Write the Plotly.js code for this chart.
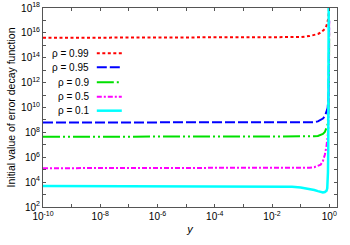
<!DOCTYPE html>
<html><head><meta charset="utf-8">
<script src="https://cdn.plot.ly/plotly-3.0.1.min.js"></script>
<style>html,body{margin:0;padding:0;background:#fff}#c{width:350px;height:245px}</style>
</head><body><div id="c"></div>
<script>
// shared x values (y variable)
const xs = [1e-10, 1e-8, 1e-6, 1e-4, 1e-3, 1e-2, 0.05, 0.1, 0.2, 0.3, 0.4, 0.5, 0.6, 0.7, 0.8, 0.85, 0.88, 0.9, 0.92, 0.94, 0.95, 0.96, 0.97, 0.98, 0.99];
// series values
const rho099 = [4.0e15, 4.0e15, 4.0e15, 4.0e15, 4.0e15, 4.1e15, 4.3e15, 4.6e15, 5.5e15, 6.6e15, 8.1e15, 1.05e16, 1.45e16, 2.1e16, 3.8e16, 5.6e16, 7.6e16, 1.0e17, 1.4e17, 2.1e17, 2.6e17, 4.0e17, 6.3e17, 1.3e18, 4e18];
const rho095 = [6.2e8, 6.2e8, 6.2e8, 6.2e8, 6.2e8, 6.2e8, 6.2e8, 6.3e8, 6.5e8, 6.6e8, 7.6e8, 1.0e9, 1.3e9, 2.0e9, 4.0e9, 7.0e9, 1.0e10, 1.6e10, 3e10, 1e11, 3e11, 1.6e12, 1e13, 3e14, 1e17];
const rho09  = [4.4e7, 4.4e7, 4.4e7, 4.4e7, 4.4e7, 4.4e7, 4.4e7, 4.5e7, 4.6e7, 4.8e7, 5.2e7, 6.0e7, 7.6e7, 1.07e8, 2.0e8, 3.5e8, 5.0e8, 7.9e8, 1.6e9, 5e9, 1.3e10, 5e10, 3e11, 1e13, 1e16];
const rho05  = [1.32e5, 1.32e5, 1.32e5, 1.32e5, 1.32e5, 1.32e5, 1.32e5, 1.35e5, 1.45e5, 1.6e5, 1.9e5, 2.5e5, 5e5, 1.6e6, 7.9e6, 2e7, 4e7, 8e7, 2e8, 1e9, 3e9, 2e10, 3e11, 3e13, 1e17];
const rho01  = [4.8e3, 4.8e3, 4.8e3, 4.8e3, 4.8e3, 4.6e3, 4.2e3, 3.7e3, 2.9e3, 2.3e3, 1.9e3, 1.6e3, 1.5e3, 1.6e3, 2.0e3, 3.2e3, 1.0e4, 6.3e4, 3e6, 1e10, 1e13, 1e18, 1e23, 1e28, 1e33];
const seriesNames = ['ρ = 0.99', 'ρ = 0.95', 'ρ = 0.9', 'ρ = 0.5', 'ρ = 0.1'];
const seriesData = [rho099, rho095, rho09, rho05, rho01];
const tickDecadesY = [2,3,4,5,6,7,8,9,10,11,12,13,14,15,16,17,18];
const tickDecadesX = [-10,-9,-8,-7,-6,-5,-4,-3,-2,-1,0];

const colors = ['#ff0000', '#0000ff', '#00e000', '#ff00ff', '#00ffff'];
const dashes = ['3px,2.5px', '10px,3px', '17px,3px,2px,3px,2px,3px', '5px,2px,2px,2px', 'solid'];
const widths = [2, 2, 2, 2, 2.5];

const traces = seriesData.map((ys, i) => ({
  x: xs, y: ys, type: 'scatter', mode: 'lines', name: seriesNames[i],
  line: {color: colors[i], dash: dashes[i], width: widths[i]}, showlegend: false
}));

const yTickVals = tickDecadesY.map(d => Math.pow(10, d));
const yTickText = tickDecadesY.map(d => d % 2 === 0 ? '10<sup>' + d + '</sup>' : '');
const xTickVals = tickDecadesX.map(d => Math.pow(10, d));
const xTickText = tickDecadesX.map(d => d % 2 === 0 ? '10<sup>' + d + '</sup>' : '');

// manual legend (text left, sample line right)
const legY = [0.772, 0.702, 0.627, 0.554, 0.484];
const annotations = seriesNames.map((n, i) => ({
  xref: 'paper', yref: 'paper', x: 0.162, y: legY[i], xanchor: 'right', yanchor: 'middle',
  text: n, showarrow: false, font: {size: 10, color: '#000'}
}));
const shapes = seriesNames.map((n, i) => ({
  type: 'line', xref: 'paper', yref: 'paper', x0: 0.183, x1: 0.268, y0: legY[i], y1: legY[i],
  line: {color: colors[i], dash: dashes[i], width: widths[i]}
}));

const axisCommon = {
  type: 'log', showgrid: false, zeroline: false, showline: true, linecolor: '#555', linewidth: 1,
  mirror: 'ticks', ticks: 'inside', ticklen: 3, tickcolor: '#555', tickfont: {size: 10, color: '#000'}
};

const layout = {
  width: 350, height: 245,
  margin: {l: 43, r: 13, t: 8, b: 38},
  paper_bgcolor: '#fff', plot_bgcolor: '#fff',
  font: {family: 'Liberation Sans, Arial, sans-serif', color: '#000'},
  xaxis: Object.assign({}, axisCommon, {
    range: [-10, 0.27], tickvals: xTickVals, ticktext: xTickText,
    title: {text: '<i>y</i>', font: {size: 11}, standoff: 4}
  }),
  yaxis: Object.assign({}, axisCommon, {
    range: [2, 18], tickvals: yTickVals, ticktext: yTickText,
    title: {text: 'Initial value of error decay function', font: {size: 10.5}, standoff: 3}
  }),
  annotations: annotations, shapes: shapes, showlegend: false
};

Plotly.newPlot('c', traces, layout, {displayModeBar: false, staticPlot: true});
</script></body></html>
